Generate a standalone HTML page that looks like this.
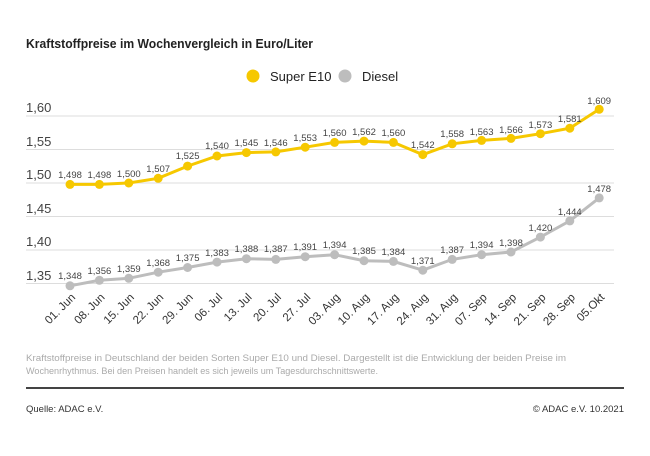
<!DOCTYPE html><html><head><style>body{margin:0;background:#fff}svg{display:block;font-family:"Liberation Sans",sans-serif}</style></head><body>
<svg width="650" height="456" viewBox="0 0 650 456">
<text x="26" y="48" font-size="13" font-weight="bold" fill="#222" textLength="287" lengthAdjust="spacingAndGlyphs">Kraftstoffpreise im Wochenvergleich in Euro/Liter</text>
<circle cx="253" cy="76" r="6.5" fill="#f6c800"/><text x="270" y="81" font-size="13" fill="#222">Super E10</text>
<circle cx="345" cy="76" r="6.5" fill="#bdbdbd"/><text x="362" y="81" font-size="13" fill="#222">Diesel</text>
<g stroke="#ddd" stroke-width="1">
<line x1="26" x2="614" y1="116" y2="116"/><line x1="26" x2="614" y1="149.5" y2="149.5"/><line x1="26" x2="614" y1="183" y2="183"/><line x1="26" x2="614" y1="216.5" y2="216.5"/><line x1="26" x2="614" y1="250" y2="250"/><line x1="26" x2="614" y1="283.5" y2="283.5"/></g>
<g font-size="13" fill="#444"><text x="26" y="112">1,60</text><text x="26" y="146">1,55</text><text x="26" y="179">1,50</text><text x="26" y="213">1,45</text><text x="26" y="246">1,40</text><text x="26" y="280">1,35</text></g>
<polyline fill="none" stroke="#f6c800" stroke-width="3" points="70,184.4 99.4,184.4 128.8,183 158.2,178.3 187.6,166.1 217,156 246.4,152.6 275.8,151.9 305.2,147.2 334.6,142.4 364,141.1 393.4,142.4 422.8,154.6 452.2,143.8 481.6,140.4 511,138.4 540.4,133.7 569.8,128.2 599.2,109.3"/>
<polyline fill="none" stroke="#bdbdbd" stroke-width="3" points="70,285.8 99.4,280.3 128.8,278.3 158.2,272.2 187.6,267.5 217,262.1 246.4,258.7 275.8,259.4 305.2,256.7 334.6,254.7 364,260.7 393.4,261.4 422.8,270.2 452.2,259.4 481.6,254.7 511,252 540.4,237.1 569.8,220.9 599.2,197.9"/>
<g fill="#f6c800"><circle cx="70" cy="184.4" r="4.5"/><circle cx="99.4" cy="184.4" r="4.5"/><circle cx="128.8" cy="183" r="4.5"/><circle cx="158.2" cy="178.3" r="4.5"/><circle cx="187.6" cy="166.1" r="4.5"/><circle cx="217" cy="156" r="4.5"/><circle cx="246.4" cy="152.6" r="4.5"/><circle cx="275.8" cy="151.9" r="4.5"/><circle cx="305.2" cy="147.2" r="4.5"/><circle cx="334.6" cy="142.4" r="4.5"/><circle cx="364" cy="141.1" r="4.5"/><circle cx="393.4" cy="142.4" r="4.5"/><circle cx="422.8" cy="154.6" r="4.5"/><circle cx="452.2" cy="143.8" r="4.5"/><circle cx="481.6" cy="140.4" r="4.5"/><circle cx="511" cy="138.4" r="4.5"/><circle cx="540.4" cy="133.7" r="4.5"/><circle cx="569.8" cy="128.2" r="4.5"/><circle cx="599.2" cy="109.3" r="4.5"/></g>
<g fill="#bdbdbd"><circle cx="70" cy="285.8" r="4.5"/><circle cx="99.4" cy="280.3" r="4.5"/><circle cx="128.8" cy="278.3" r="4.5"/><circle cx="158.2" cy="272.2" r="4.5"/><circle cx="187.6" cy="267.5" r="4.5"/><circle cx="217" cy="262.1" r="4.5"/><circle cx="246.4" cy="258.7" r="4.5"/><circle cx="275.8" cy="259.4" r="4.5"/><circle cx="305.2" cy="256.7" r="4.5"/><circle cx="334.6" cy="254.7" r="4.5"/><circle cx="364" cy="260.7" r="4.5"/><circle cx="393.4" cy="261.4" r="4.5"/><circle cx="422.8" cy="270.2" r="4.5"/><circle cx="452.2" cy="259.4" r="4.5"/><circle cx="481.6" cy="254.7" r="4.5"/><circle cx="511" cy="252" r="4.5"/><circle cx="540.4" cy="237.1" r="4.5"/><circle cx="569.8" cy="220.9" r="4.5"/><circle cx="599.2" cy="197.9" r="4.5"/></g>
<g font-size="9.5" fill="#444" text-anchor="middle">
<text x="70" y="178">1,498</text><text x="99.4" y="178">1,498</text><text x="128.8" y="177">1,500</text><text x="158.2" y="172">1,507</text><text x="187.6" y="159">1,525</text><text x="217" y="149">1,540</text><text x="246.4" y="146">1,545</text><text x="275.8" y="146">1,546</text><text x="305.2" y="141">1,553</text><text x="334.6" y="136">1,560</text><text x="364" y="135">1,562</text><text x="393.4" y="136">1,560</text><text x="422.8" y="148">1,542</text><text x="452.2" y="137">1,558</text><text x="481.6" y="135">1,563</text><text x="511" y="133">1,566</text><text x="540.4" y="128">1,573</text><text x="569.8" y="122">1,581</text><text x="599.2" y="104">1,609</text>
<text x="70" y="279">1,348</text><text x="99.4" y="274">1,356</text><text x="128.8" y="272">1,359</text><text x="158.2" y="266">1,368</text><text x="187.6" y="261">1,375</text><text x="217" y="256">1,383</text><text x="246.4" y="252">1,388</text><text x="275.8" y="252">1,387</text><text x="305.2" y="250">1,391</text><text x="334.6" y="248">1,394</text><text x="364" y="254">1,385</text><text x="393.4" y="255">1,384</text><text x="422.8" y="264">1,371</text><text x="452.2" y="253">1,387</text><text x="481.6" y="248">1,394</text><text x="511" y="246">1,398</text><text x="540.4" y="231">1,420</text><text x="569.8" y="215">1,444</text><text x="599.2" y="192">1,478</text></g>
<g font-size="11.5" fill="#333" text-anchor="end">
<text transform="translate(76,298) rotate(-45)">01. Jun</text><text transform="translate(105.4,298) rotate(-45)">08. Jun</text><text transform="translate(134.8,298) rotate(-45)">15. Jun</text><text transform="translate(164.2,298) rotate(-45)">22. Jun</text><text transform="translate(193.6,298) rotate(-45)">29. Jun</text><text transform="translate(223,298) rotate(-45)">06. Jul</text><text transform="translate(252.4,298) rotate(-45)">13. Jul</text><text transform="translate(281.8,298) rotate(-45)">20. Jul</text><text transform="translate(311.2,298) rotate(-45)">27. Jul</text><text transform="translate(340.6,298) rotate(-45)">03. Aug</text><text transform="translate(370,298) rotate(-45)">10. Aug</text><text transform="translate(399.4,298) rotate(-45)">17. Aug</text><text transform="translate(428.8,298) rotate(-45)">24. Aug</text><text transform="translate(458.2,298) rotate(-45)">31. Aug</text><text transform="translate(487.6,298) rotate(-45)">07. Sep</text><text transform="translate(517,298) rotate(-45)">14. Sep</text><text transform="translate(546.4,298) rotate(-45)">21. Sep</text><text transform="translate(575.8,298) rotate(-45)">28. Sep</text><text transform="translate(605.2,298) rotate(-45)">05.Okt</text></g>
<g font-size="9" fill="#aaa"><text x="26" y="361" textLength="540" lengthAdjust="spacingAndGlyphs">Kraftstoffpreise in Deutschland der beiden Sorten Super E10 und Diesel. Dargestellt ist die Entwicklung der beiden Preise im</text><text x="26" y="374" textLength="352" lengthAdjust="spacingAndGlyphs">Wochenrhythmus. Bei den Preisen handelt es sich jeweils um Tagesdurchschnittswerte.</text></g>
<line x1="26" x2="624" y1="388" y2="388" stroke="#444" stroke-width="2"/>
<g font-size="9.5" fill="#333"><text x="26" y="412">Quelle: ADAC e.V.</text><text x="624" y="412" text-anchor="end">© ADAC e.V. 10.2021</text></g>
</svg></body></html>
